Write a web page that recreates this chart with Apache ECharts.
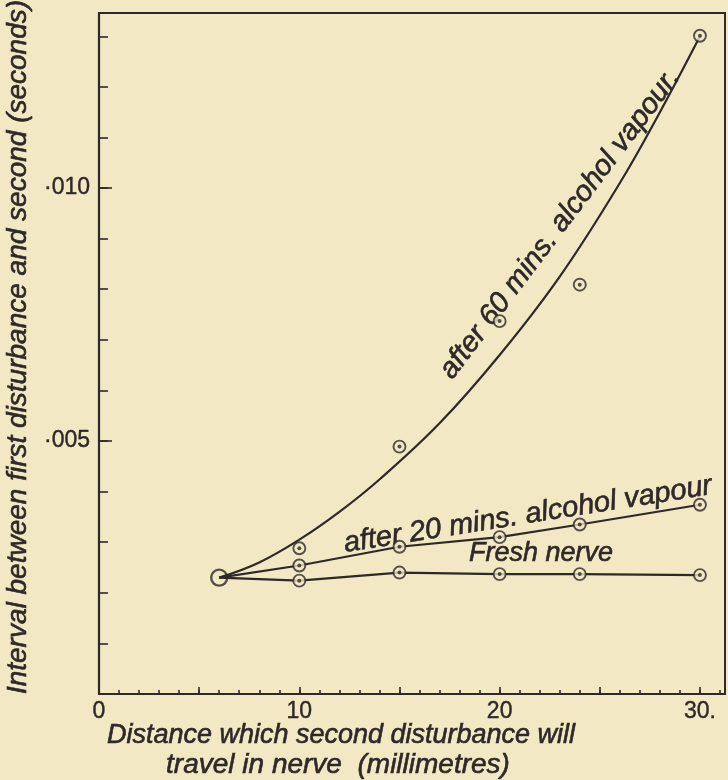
<!DOCTYPE html>
<html>
<head>
<meta charset="utf-8">
<script src="https://cdn.jsdelivr.net/npm/echarts@6/dist/echarts.min.js"></script>
<style>
  html, body { margin: 0; padding: 0; background: #f2e8c3; }
  #chart { width: 728px; height: 780px; }
</style>
</head>
<body>
<div id="chart"></div>
<script>
// ---- data ----
const distances = [6, 10, 15, 20, 24, 30];                                   // millimetres
const freshNerve = [0.00230, 0.00224, 0.00240, 0.00237, 0.00237, 0.00235];   // seconds
const after20 = [0.00230, 0.00254, 0.00291, 0.00310, 0.00335, 0.00374];
const after60 = [0.00230, 0.00288, 0.00489, 0.00737, 0.00809, 0.01301];
// hand-drawn smooth curve through the 60-min points at these distances
const curve60X = [6, 8, 10, 12, 14, 17, 20, 23, 26, 28, 30];
const curve60Y = [0.00230, 0.00260, 0.00305, 0.00360, 0.00424, 0.00535, 0.00670, 0.00825, 0.01010, 0.01150, 0.01300];
const commonStart = [[6, 0.00230]];
const xTickLabels = { 0: '0', 10: '10', 20: '20', 30: '30.' };
const yTickLabels = { 5: '·005', 10: '·010' };
const yTitle = 'Interval between first disturbance and second (seconds)';
const xTitle1 = 'Distance which second disturbance will';
const xTitle2 = 'travel in nerve  (millimetres)';
const label60 = 'after 60 mins. alcohol vapour.';
const label20 = 'after 20 mins. alcohol vapour';
const labelFresh = 'Fresh nerve';

const ink = '#2e2828';
const paper = '#f2e8c3';
const xMax = 31.25, yMax = 0.01346;

const zip = (xs, ys) => xs.map((x, i) => [x, ys[i]]);

const ringStyle = { color: paper, borderColor: ink, borderWidth: 1.9 };
function ringSeries(data) {
  return [
    { type: 'scatter', data, symbol: 'circle', symbolSize: 12, itemStyle: ringStyle, z: 5, silent: true },
    { type: 'scatter', data, symbol: 'circle', symbolSize: 4, itemStyle: { color: ink }, z: 6, silent: true }
  ];
}
const lineStyle = { color: ink, width: 2.2 };
const textBase = { fill: ink, stroke: ink, lineWidth: 0.6, fontStyle: 'italic', fontFamily: 'Liberation Sans', align: 'center', verticalAlign: 'middle' };

const chart = echarts.init(document.getElementById('chart'), null, { renderer: 'canvas' });
const option = {
  backgroundColor: paper,
  animation: false,
  grid: { left: 99, right: 3, top: 13, bottom: 86, show: true, borderColor: ink, borderWidth: 2, backgroundColor: 'transparent' },
  xAxis: [
    { type: 'value', min: 0, max: xMax, interval: 1, position: 'bottom',
      axisLine: { show: true, onZero: false, lineStyle: { color: ink, width: 2.2 } },
      axisTick: { show: true, inside: true, length: 4, lineStyle: { color: ink, width: 1.6 } },
      axisLabel: { show: false }, splitLine: { show: false } },
    { type: 'value', min: 0, max: xMax, interval: 5, position: 'bottom',
      axisLine: { show: false, onZero: false },
      axisTick: { show: true, inside: true, length: 7, lineStyle: { color: ink, width: 1.6 } },
      axisLabel: { show: true, margin: 6, color: ink, fontSize: 23, fontFamily: 'Liberation Sans',
        textBorderColor: ink, textBorderWidth: 0.4,
        formatter: v => { const r = Math.round(v); return Math.abs(v - r) < 1e-6 && xTickLabels[r] !== undefined ? xTickLabels[r] : ''; } },
      splitLine: { show: false } }
  ],
  yAxis: [
    { type: 'value', min: 0, max: yMax, interval: 0.001, position: 'left',
      axisLine: { show: true, onZero: false, lineStyle: { color: ink, width: 2.2 } },
      axisTick: { show: true, inside: true, length: 9, lineStyle: { color: ink, width: 1.6 } },
      axisLabel: { show: false }, splitLine: { show: false } },
    { type: 'value', min: 0, max: yMax, interval: 0.005, position: 'left',
      axisLine: { show: false, onZero: false },
      axisTick: { show: true, inside: true, length: 13, lineStyle: { color: ink, width: 1.6 } },
      axisLabel: { show: true, margin: 9, color: ink, fontSize: 23, fontFamily: 'Liberation Sans',
        textBorderColor: ink, textBorderWidth: 0.4,
        formatter: v => { const k = Math.round(v * 1000); return Math.abs(v * 1000 - k) < 1e-6 && yTickLabels[k] ? yTickLabels[k] : ''; } },
      splitLine: { show: false } }
  ],
  series: [
    { type: 'line', data: zip(curve60X, curve60Y), smooth: 0.4, showSymbol: false, symbol: 'none', lineStyle, z: 3, silent: true },
    { type: 'line', data: zip(distances, after20), smooth: false, showSymbol: false, symbol: 'none', lineStyle, z: 3, silent: true },
    { type: 'line', data: zip(distances, freshNerve), smooth: false, showSymbol: false, symbol: 'none', lineStyle, z: 3, silent: true },
    ...ringSeries(zip(distances, after60).slice(1)),
    ...ringSeries(zip(distances, after20).slice(1)),
    ...ringSeries(zip(distances, freshNerve).slice(1)),
    { type: 'scatter', data: commonStart, symbol: 'circle', symbolSize: 16, itemStyle: { color: 'transparent', borderColor: ink, borderWidth: 2.4 }, z: 5, silent: true }
  ],
  graphic: [
    { type: 'text', x: 18, y: 347, rotation: Math.PI / 2, style: Object.assign({ text: yTitle, fontSize: 28 }, textBase) },
    { type: 'text', x: 341, y: 735, style: Object.assign({ text: xTitle1, fontSize: 27 }, textBase) },
    { type: 'text', x: 338, y: 765, style: Object.assign({ text: xTitle2, fontSize: 28 }, textBase) },
    { type: 'text', x: 560, y: 224, rotation: 53 * Math.PI / 180, style: Object.assign({ text: label60, fontSize: 29 }, textBase) },
    { type: 'text', x: 528, y: 515, rotation: 9 * Math.PI / 180, style: Object.assign({ text: label20, fontSize: 29 }, textBase) },
    { type: 'text', x: 541, y: 553, style: Object.assign({ text: labelFresh, fontSize: 27 }, textBase) }
  ]
};
chart.setOption(option);
</script>
</body>
</html>
